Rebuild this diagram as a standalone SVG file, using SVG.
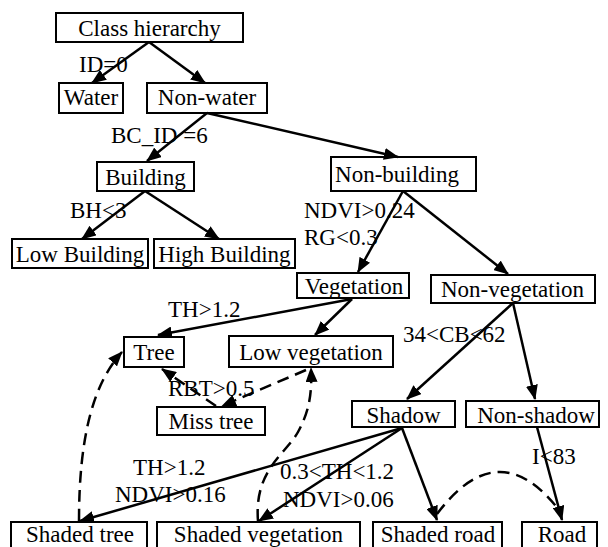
<svg xmlns="http://www.w3.org/2000/svg" width="608" height="547" viewBox="0 0 608 547">
<defs>
<marker id="ah" viewBox="0 0 15 12" refX="14" refY="6" markerWidth="15" markerHeight="12" markerUnits="userSpaceOnUse" orient="auto">
<path d="M0,0 L15,6 L0,12 z" fill="#000"/>
</marker>
<style>
.box{fill:#fff;stroke:#000;stroke-width:2}
text{font-family:'Liberation Serif','DejaVu Serif',serif;font-size:23px;fill:#000}
.t{text-anchor:middle}
.e{fill:none;stroke:#000;stroke-width:2.5;marker-end:url(#ah)}
.d{fill:none;stroke:#000;stroke-width:2.5;stroke-dasharray:12,7;marker-end:url(#ah)}
.dn{fill:none;stroke:#000;stroke-width:2.5;stroke-dasharray:12,7}
</style>
</defs>
<rect width="608" height="547" fill="#fff"/>
<g id="nodes" font-family="Liberation Serif, DejaVu Serif, serif" font-size="23">
<g id="n-class"><rect class="box" x="56" y="13" width="187" height="29"/><text class="t" x="149.5" y="36">Class hierarchy</text></g>
<g id="n-water"><rect class="box" x="59" y="83" width="64" height="30"/><text class="t" x="91" y="105">Water</text></g>
<g id="n-nonwater"><rect class="box" x="147" y="83" width="120" height="30"/><text class="t" x="207" y="105">Non-water</text></g>
<g id="n-building"><rect class="box" x="97" y="162" width="97" height="29"/><text class="t" x="145.5" y="185">Building</text></g>
<g id="n-nonbuilding"><rect class="box" x="331" y="157" width="145" height="34"/><text class="t" x="397" y="182">Non-building</text></g>
<g id="n-lowbuilding"><rect class="box" x="12" y="239" width="136" height="29"/><text class="t" x="80" y="262">Low Building</text></g>
<g id="n-highbuilding"><rect class="box" x="154" y="239" width="141" height="29"/><text class="t" x="224.5" y="262">High Building</text></g>
<g id="n-vegetation"><rect class="box" x="297" y="273" width="112" height="25"/><text class="t" x="354" y="294">Vegetation</text></g>
<g id="n-nonvegetation"><rect class="box" x="431" y="275" width="164" height="28"/><text class="t" x="512.5" y="297">Non-vegetation</text></g>
<g id="n-tree"><rect class="box" x="124" y="337" width="60" height="30"/><text class="t" x="154" y="360">Tree</text></g>
<g id="n-lowveg"><rect class="box" x="229" y="336" width="164" height="31"/><text class="t" x="311" y="360">Low vegetation</text></g>
<g id="n-misstree"><rect class="box" x="157" y="407" width="108" height="28"/><text class="t" x="211" y="429">Miss tree</text></g>
<g id="n-shadow"><rect class="box" x="352" y="401" width="103" height="26"/><text class="t" x="403.5" y="423">Shadow</text></g>
<g id="n-nonshadow"><rect class="box" x="466" y="401" width="133" height="26"/><text class="t" x="536" y="423">Non-shadow</text></g>
<g id="n-shadedtree"><rect class="box" x="11" y="522" width="136" height="30"/><text class="t" x="80" y="542">Shaded tree</text></g>
<g id="n-shadedveg"><rect class="box" x="157" y="522" width="203" height="30"/><text class="t" x="258.5" y="542">Shaded vegetation</text></g>
<g id="n-shadedroad"><rect class="box" x="373" y="522" width="129" height="30"/><text class="t" x="438" y="542">Shaded road</text></g>
<g id="n-road"><rect class="box" x="522" y="522" width="75" height="30"/><text class="t" x="562" y="542">Road</text></g>
</g>
<g id="connectors">
<line class="e" x1="149" y1="42" x2="92" y2="83"/>
<line class="e" x1="149" y1="42" x2="205" y2="83"/>
<line class="e" x1="207" y1="113" x2="147" y2="161"/>
<line class="e" x1="207" y1="113" x2="398" y2="157"/>
<line class="e" x1="145" y1="191" x2="82" y2="239"/>
<line class="e" x1="145" y1="191" x2="219" y2="239"/>
<line class="e" x1="403" y1="191" x2="358" y2="272"/>
<line class="e" x1="403" y1="191" x2="508" y2="274"/>
<line class="e" x1="352" y1="299" x2="158" y2="335"/>
<line class="e" x1="352" y1="299" x2="315" y2="335"/>
<line class="e" x1="513" y1="303" x2="407" y2="399"/>
<line class="e" x1="513" y1="303" x2="535" y2="399"/>
<line class="e" x1="402" y1="428" x2="80" y2="521"/>
<line class="e" x1="402" y1="428" x2="259" y2="521"/>
<line class="e" x1="402" y1="428" x2="437" y2="520"/>
<line class="e" x1="537" y1="427" x2="562" y2="520"/>
<path class="d" d="M79,521 C79,440 92,385 122,352"/>
<path class="d" d="M258,521 C254,470 285,455 298,432 C310,410 312,392 311,368"/>
<line class="d" x1="216" y1="406" x2="162" y2="369"/>
<line class="d" x1="306" y1="370" x2="222" y2="406"/>
<path class="dn" d="M437,514 Q500,430 562,514"/>
</g>
<g id="labels" font-family="Liberation Serif, DejaVu Serif, serif" font-size="23">
<text x="79" y="72">ID=0</text>
<text x="111" y="143">BC_ID =6</text>
<text x="70" y="218">BH&lt;3</text>
<text x="304" y="218">NDVI&gt;0.24</text>
<text x="304" y="245">RG&lt;0.3</text>
<text x="168" y="317">TH&gt;1.2</text>
<text x="403" y="342">34&lt;CB&lt;62</text>
<text x="168" y="396">RBT&gt;0.5</text>
<text x="133" y="475">TH&gt;1.2</text>
<text x="115" y="502">NDVI&gt;0.16</text>
<text x="280" y="479">0.3&lt;TH&lt;1.2</text>
<text x="283" y="507">NDVI&gt;0.06</text>
<text x="532" y="464">I&lt;83</text>
</g>
</svg>
